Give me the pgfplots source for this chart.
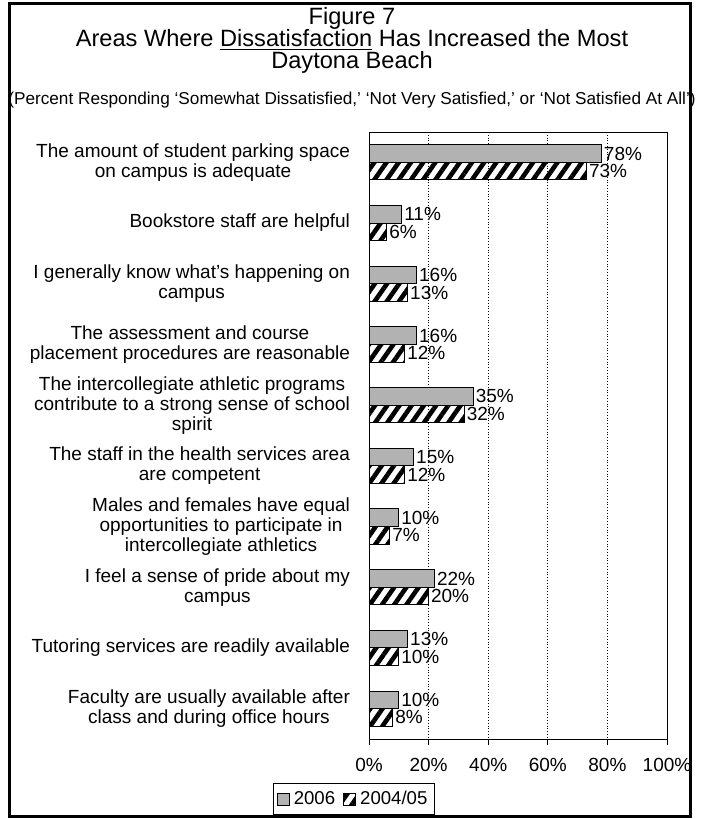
\documentclass[border=0pt]{standalone}
\usepackage{pgfplots}
\pgfplotsset{compat=1.18}
\usepackage{fontspec}
\setmainfont{Liberation Sans}
\usetikzlibrary{patterns.meta}
\definecolor{barGray}{RGB}{178,178,178}

\begin{document}
\begin{tikzpicture}
% canvas is 704 x 819 px, drawn at 0.5pt per px
\path[fill=white] (0,0) rectangle (352pt,409.5pt);
\draw[line width=1.5pt] (4.5pt,1pt) rectangle (345pt,407.5pt);

\node[font=\fontsize{11.8}{12}\selectfont] at (176pt,400.5pt) {Figure 7};
\node[font=\fontsize{11.8}{12}\selectfont] at (176pt,389.5pt) {Areas Where \underline{Dissatisfaction} Has Increased the Most};
\node[font=\fontsize{11.8}{12}\selectfont] at (176pt,378.5pt) {Daytona Beach};
\node[font=\fontsize{8.6}{9}\selectfont] at (176pt,359.5pt) {(Percent Responding ‘Somewhat Dissatisfied,’ ‘Not Very Satisfied,’ or ‘Not Satisfied At All’)};

\begin{axis}[
  at={(184.5pt,40pt)}, anchor=south west,
  scale only axis, width=149pt, height=303.5pt,
  xbar, bar width=0.29,
  xmin=0, xmax=100,
  ymin=-0.5, ymax=9.5, y dir=reverse,
  axis line style={black, line width=0.5pt},
  xtick={0,20,...,100},
  xticklabels={0\%,20\%,40\%,60\%,80\%,100\%},
  ytick={0,...,9},
  yticklabels={
    {The amount of student parking space\\on campus is adequate},
    {Bookstore staff are helpful},
    {I generally know what’s happening on\\campus},
    {The assessment and course\\placement procedures are reasonable},
    {The intercollegiate athletic programs\\contribute to a strong sense of school\\spirit},
    {The staff in the health services area\\are competent},
    {Males and females have equal\\opportunities to participate in\\intercollegiate athletics},
    {I feel a sense of pride about my\\campus},
    {Tutoring services are readily available},
    {Faculty are usually available after\\class and during office hours}},
  minor ytick={-0.5,0.5,...,9.5},
  tick align=outside, xtick pos=bottom, ytick pos=left,
  major tick length=3pt, minor tick length=4pt,
  ytick style={draw=none},
  tick style={black, line width=0.5pt},
  xmajorgrids,
  major x grid style={densely dotted, black, line width=0.5pt},
  tick label style={font=\fontsize{9.5}{10}\selectfont},
  yticklabel style={align=center, xshift=-3pt},
  xticklabel style={yshift=-3pt},
  /pgf/number format/assume math mode=true,
  nodes near coords={\pgfmathprintnumber{\pgfplotspointmeta}\%},
  nodes near coords style={font=\fontsize{9.5}{10}\selectfont, inner sep=1pt, black},
  legend style={at={(-0.05,-0.099)}, anchor=center, legend columns=2,
    draw=black, line width=0.5pt, font=\fontsize{9.3}{10}\selectfont,
    inner sep=1.5pt,
    /tikz/every even column/.append style={column sep=2pt}},
  legend image code/.code={\draw[#1] (0pt,-3pt) rectangle (6pt,3pt);},
]

% 2006
\addplot[fill=barGray, draw=black, line width=0.5pt, bar shift=-0.145] coordinates {
  (78,0) (11,1) (16,2) (16,3) (35,4) (15,5) (10,6) (22,7) (13,8) (10,9)
};

% 2004/05
\addplot[pattern={Lines[angle=55,distance=5pt,line width=2.3pt]}, pattern color=black,
  draw=black, line width=0.5pt, bar shift=0.145] coordinates {
  (73,0) (6,1) (13,2) (12,3) (32,4) (12,5) (7,6) (20,7) (10,8) (8,9)
};

\legend{2006, 2004/05}
\end{axis}
\end{tikzpicture}
\end{document}
